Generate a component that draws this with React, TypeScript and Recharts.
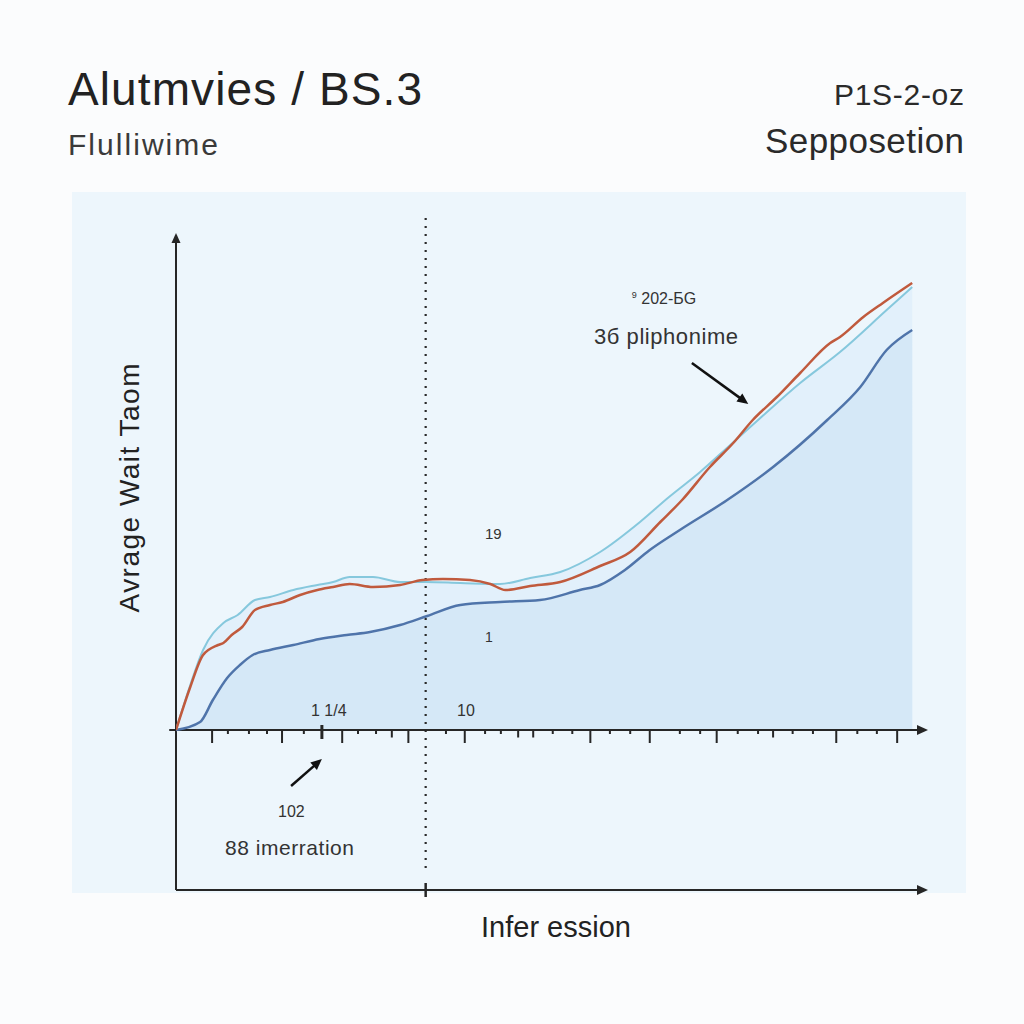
import React from 'react';
import { ComposedChart, Area, Line, XAxis, YAxis, ReferenceLine } from 'recharts';

// ---- data (x: inference progress units, y: average wait units) ----
const cyanSeries = [
  { x: 0, y: 0 }, { x: 1.9, y: 9 }, { x: 3.6, y: 16 }, { x: 6.3, y: 21.4 }, { x: 8.2, y: 23 },
  { x: 10.5, y: 26 }, { x: 12.5, y: 26.6 }, { x: 15.6, y: 28 }, { x: 18.8, y: 29 }, { x: 20.9, y: 29.6 },
  { x: 23.1, y: 30.6 }, { x: 26.2, y: 30.6 }, { x: 29.8, y: 29.6 }, { x: 33.2, y: 29.6 }, { x: 37.8, y: 29.4 },
  { x: 43.1, y: 29.2 }, { x: 47.1, y: 30.4 }, { x: 51.1, y: 31.6 }, { x: 56.4, y: 35.6 }, { x: 61.7, y: 41.6 },
  { x: 65.4, y: 46.4 }, { x: 69.7, y: 51.6 }, { x: 73.7, y: 57 }, { x: 77.7, y: 62.4 }, { x: 83, y: 69.4 },
  { x: 88.3, y: 75.6 }, { x: 94.5, y: 84 }, { x: 97.9, y: 88.6 },
];
const redSeries = [
  { x: 0, y: 0 }, { x: 1.9, y: 8.6 }, { x: 3.6, y: 15 }, { x: 5.6, y: 17 }, { x: 6.3, y: 17.4 },
  { x: 7.4, y: 19 }, { x: 8.8, y: 20.6 }, { x: 10.5, y: 24 }, { x: 12.5, y: 25 }, { x: 14.2, y: 25.6 },
  { x: 16.5, y: 27 }, { x: 18.8, y: 28 }, { x: 20.9, y: 28.6 }, { x: 23.1, y: 29.2 }, { x: 26.2, y: 28.6 },
  { x: 29.8, y: 29 }, { x: 32.8, y: 30 }, { x: 35.5, y: 30.2 }, { x: 39.1, y: 30 }, { x: 41.8, y: 29.2 },
  { x: 43.8, y: 28 }, { x: 47.1, y: 28.8 }, { x: 51.1, y: 29.6 }, { x: 56.4, y: 32.8 }, { x: 60.4, y: 35.6 },
  { x: 64.4, y: 41.6 }, { x: 67.3, y: 46 }, { x: 71, y: 52.6 }, { x: 74.1, y: 57.4 }, { x: 76.7, y: 62 },
  { x: 79.9, y: 66.6 }, { x: 83, y: 71.4 }, { x: 87, y: 77.4 }, { x: 88.3, y: 78.6 }, { x: 91.4, y: 82.6 },
  { x: 94, y: 85.4 }, { x: 97.9, y: 89.4 },
];
const navySeries = [
  { x: 0, y: 0 }, { x: 3.2, y: 1.6 }, { x: 4.9, y: 6 }, { x: 6.8, y: 10.4 }, { x: 8.5, y: 13 },
  { x: 10.2, y: 15 }, { x: 12.5, y: 16 }, { x: 15.6, y: 17 }, { x: 19.1, y: 18.2 }, { x: 22.7, y: 19 },
  { x: 25.8, y: 19.6 }, { x: 29.8, y: 21 }, { x: 33.4, y: 22.8 }, { x: 37.8, y: 25 }, { x: 43.1, y: 25.6 },
  { x: 48.4, y: 26 }, { x: 53.7, y: 28 }, { x: 56.4, y: 29 }, { x: 59.7, y: 32 }, { x: 63, y: 36 },
  { x: 67, y: 40 }, { x: 73.3, y: 46 }, { x: 79.4, y: 52.6 }, { x: 86.6, y: 62 }, { x: 91, y: 68.6 },
  { x: 94.5, y: 76 }, { x: 97.9, y: 80 },
];

const axisTicks = [4.8, 6.9, 9.7, 12.1, 14.1, 17, 19.4, 22.1, 24.2, 26.6, 28.7, 30.9, 35.9, 38.4, 41.1, 43.2, 45.5, 47.5,
  50.1, 52.7, 55.1, 57.7, 60.4, 63, 67, 69.7, 71.9, 74.7, 77.4, 79.4, 82, 84.7, 87.8, 90.6, 93.2, 95.9];
const tickKinds = ['L', 'S', 'S', 'S', 'L', 'S', 'X', 'L', 'S', 'S', 'M', 'L', 'S', 'L', 'S', 'S', 'M', 'M',
  'S', 'S', 'L', 'S', 'S', 'L', 'S', 'S', 'L', 'S', 'S', 'M', 'S', 'S', 'L', 'S', 'S', 'L'];
const dividerX = 33.2;
const lowerFloor = -32;

const INK = '#262626';

const ArrowLine = (p: any) => {
  const { x1, y1, x2, y2, color, width, head, spread } = p;
  const ang = Math.atan2(y2 - y1, x2 - x1);
  const bx = x2 - head * Math.cos(ang);
  const by = y2 - head * Math.sin(ang);
  const px = -Math.sin(ang) * spread;
  const py = Math.cos(ang) * spread;
  return (
    <g>
      <line x1={x1} y1={y1} x2={bx + Math.cos(ang) * 1} y2={by + Math.sin(ang) * 1} stroke={color} strokeWidth={width} />
      <polygon points={`${x2},${y2} ${bx + px},${by + py} ${bx - px},${by - py}`} fill={color} />
    </g>
  );
};

const arrowShape = (color: string, width: number, head: number, spread: number) => (p: any) =>
  <ArrowLine {...p} color={color} width={width} head={head} spread={spread} />;

const tickLen: Record<string, [number, number]> = { L: [0, -2.6], M: [0, -1.5], S: [0, -0.8], X: [1, -1.8] };

export default function App() {
  const font = '"Liberation Sans", Arial, Helvetica, sans-serif';
  return (
    <div style={{ position: 'absolute', left: 0, top: 0, width: 1024, height: 1024, background: '#fbfcfd', overflow: 'hidden' }}>
      <div style={{ position: 'absolute', left: 72, top: 192, width: 894, height: 701, background: '#edf6fc' }} />
      <div style={{ position: 'absolute', left: 0, top: 0 }}>
        <ComposedChart width={1024} height={1024} margin={{ top: 218, right: 96, bottom: 134, left: 176 }}>
          <XAxis type="number" dataKey="x" domain={[0, 100]} hide allowDataOverflow />
          <YAxis type="number" domain={[lowerFloor, 102.4]} hide allowDataOverflow />
          <Area data={cyanSeries} dataKey="y" type="monotone" stroke="none" fill="#e2f0fb" fillOpacity={1} baseValue={0} isAnimationActive={false} />
          <Area data={navySeries} dataKey="y" type="monotone" stroke="none" fill="#d5e8f7" fillOpacity={1} baseValue={0} isAnimationActive={false} />
          <ReferenceLine segment={[{ x: dividerX, y: 102.4 }, { x: dividerX, y: -28 }]} stroke="#2a2a2a" strokeWidth={2.2} strokeDasharray="2 6" ifOverflow="visible" />
          {axisTicks.map((t, i) => (
            <ReferenceLine key={'t' + i} segment={[{ x: t, y: tickLen[tickKinds[i]][0] }, { x: t, y: tickLen[tickKinds[i]][1] }]}
              stroke={INK} strokeWidth={tickKinds[i] === 'X' ? 3 : 2} ifOverflow="visible" />
          ))}
          <ReferenceLine segment={[{ x: dividerX, y: lowerFloor + 1.4 }, { x: dividerX, y: lowerFloor - 1.4 }]} stroke={INK} strokeWidth={2.5} ifOverflow="visible" />
          <ReferenceLine segment={[{ x: 0, y: lowerFloor }, { x: 0, y: 99.4 }]} ifOverflow="visible" shape={arrowShape(INK, 2, 10, 4.5)} />
          <ReferenceLine segment={[{ x: -0.9, y: 0 }, { x: 100, y: 0 }]} ifOverflow="visible" shape={arrowShape(INK, 2, 11, 5)} />
          <ReferenceLine segment={[{ x: 0, y: lowerFloor }, { x: 100, y: lowerFloor }]} ifOverflow="visible" shape={arrowShape(INK, 2, 11, 5)} />
          <ReferenceLine segment={[{ x: 68.6, y: 73.4 }, { x: 76.1, y: 65.2 }]} ifOverflow="visible" shape={arrowShape('#111', 2.5, 11, 5)} />
          <ReferenceLine segment={[{ x: 15.3, y: -11.2 }, { x: 19.4, y: -5.8 }]} ifOverflow="visible" shape={arrowShape('#111', 2.5, 11, 5)} />
          <Line data={navySeries} dataKey="y" type="monotone" stroke="#4f74aa" strokeWidth={2.5} dot={false} isAnimationActive={false} />
          <Line data={cyanSeries} dataKey="y" type="monotone" stroke="#86c8dd" strokeWidth={2} dot={false} isAnimationActive={false} />
          <Line data={redSeries} dataKey="y" type="monotone" stroke="#c05a3d" strokeWidth={2.5} dot={false} isAnimationActive={false} />
        </ComposedChart>
      </div>
      <svg width={1024} height={1024} style={{ position: 'absolute', left: 0, top: 0, pointerEvents: 'none' }} fontFamily={font}>
        <text x={68} y={105} fontSize={46} fill="#222" textLength={354} lengthAdjust="spacing">Alutmvies / BS.3</text>
        <text x={68} y={155} fontSize={30} fill="#3a3a3a" textLength={150} lengthAdjust="spacing">Flulliwime</text>
        <text x={964} y={105} fontSize={30} fill="#2a2a2a" textAnchor="end" textLength={130} lengthAdjust="spacing">P1S-2-oz</text>
        <text x={964} y={153} fontSize={35} fill="#2a2a2a" textAnchor="end" textLength={199} lengthAdjust="spacing">Sepposetion</text>
        <text x={139} y={488} fontSize={28} fill="#222" textAnchor="middle" transform="rotate(-90 139 488)" textLength={249} lengthAdjust="spacing">Avrage Wait Taom</text>
        <text x={556} y={937} fontSize={29} fill="#222" textAnchor="middle">Infer ession</text>
        <text x={664} y={304} fontSize={16} fill="#333" textAnchor="middle"><tspan fontSize={9} dy={-6}>9</tspan><tspan dy={6}> 202-БG</tspan></text>
        <text x={666} y={344} fontSize={22} fill="#333" textAnchor="middle" textLength={144} lengthAdjust="spacing">3б pliphonime</text>
        <text x={485} y={539} fontSize={15} fill="#333">19</text>
        <text x={485} y={642} fontSize={14} fill="#333">1</text>
        <text x={311} y={716} fontSize={16} fill="#333">1 1/4</text>
        <text x={457} y={716} fontSize={16} fill="#333">10</text>
        <text x={278} y={817} fontSize={16} fill="#333">102</text>
        <text x={225} y={855} fontSize={21} fill="#333" textLength={129} lengthAdjust="spacing">88 imerration</text>
      </svg>
    </div>
  );
}
